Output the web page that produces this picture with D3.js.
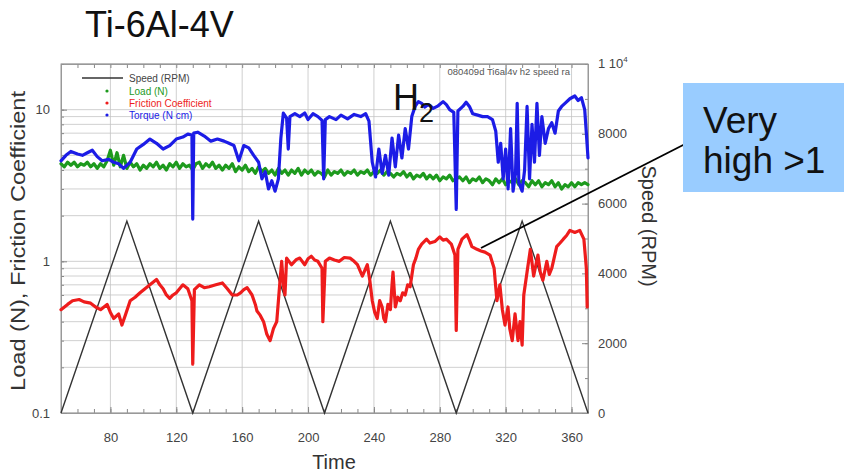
<!DOCTYPE html>
<html>
<head>
<meta charset="utf-8">
<script src="https://cdn.jsdelivr.net/npm/d3@7"></script>
<style>
  body { margin: 0; background: #fff; }
  svg text { font-family: "Liberation Sans", Arial, sans-serif; }
  .grid line { stroke: #c4c4c4; stroke-width: 0.8; }
  .axis path { stroke: #999; }
  .axis line { stroke: #888; }
  .axis text { fill: #444; font-size: 13px; }
  .series { fill: none; stroke-width: 3.2; stroke-linejoin: round; stroke-linecap: round; }
</style>
</head>
<body>
<script>
// ---- data ----
var timeTicks = [80, 120, 160, 200, 240, 280, 320, 360];
var leftTicks = [0.1, 1, 10];
var speedTicks = [0, 2000, 4000, 6000, 8000];

// speed ramps (RPM)
var speedData = [[50,0],[90,5500],[130,0],[170,5500],[210,0],[250,5500],[290,0],[330,5500],[370,0]];

// load (N)
var loadData = [[50,4.4],[52,4.2],[54,4.5],[56,4.3],[58,4.5],[60,4.2],[62,4.4],[64,4.3],[66,4.5],[68,4.2],
  [70,4.4],[72,4.1],[74,4.4],[76,4.2],[78,4.6],[80,5.4],[82,4.3],[84,5.2],[86,4.2],[88,5.0],
  [90,4.1],[92,4.5],[94,4.2],[96,4.4],[98,4.0],[100,4.3],[102,4.1],[104,4.4],[106,4.2],[108,4.5],
  [110,4.1],[112,4.3],[114,4.0],[116,4.4],[118,4.2],[120,4.5],[122,4.1],[124,4.4],[126,4.2],[128,4.3],
  [130,4.0],[132,4.4],[134,4.5],[136,4.1],[138,4.4],[140,4.2],[142,4.5],[144,4.1],[146,4.3],[148,4.0],
  [150,4.3],[152,4.1],[154,4.4],[156,3.9],[158,4.2],[160,4.0],[162,4.3],[164,3.9],[166,4.1],[168,3.8],
  [170,4.2],[172,3.9],[174,4.1],[176,3.8],[178,4.0],[180,3.7],[182,4.1],[184,3.8],[186,4.0],[188,3.7],
  [190,4.0],[192,3.8],[194,4.1],[196,3.7],[198,4.0],[200,3.8],[202,4.0],[204,3.7],[206,3.9],[208,3.8],
  [210,3.6],[212,4.0],[214,3.7],[216,3.9],[218,3.8],[220,4.0],[222,3.7],[224,3.9],[226,3.8],[228,4.0],
  [230,3.7],[232,3.9],[234,3.8],[236,4.0],[238,3.7],[240,3.9],[242,3.8],[244,4.0],[246,3.7],[248,3.9],
  [250,3.8],[252,3.6],[254,3.8],[256,3.7],[258,3.9],[260,3.6],[262,3.8],[264,3.5],[266,3.7],[268,3.6],
  [270,3.8],[272,3.5],[274,3.7],[276,3.5],[278,3.7],[280,3.4],[282,3.6],[284,3.5],[286,3.7],[288,3.4],
  [290,3.5],[292,3.6],[294,3.4],[296,3.6],[298,3.3],[300,3.5],[302,3.4],[304,3.6],[306,3.3],[308,3.5],
  [310,3.4],[312,3.2],[314,3.5],[316,3.3],[318,3.5],[320,3.2],[322,3.4],[324,3.3],[326,3.5],[328,3.2],
  [330,3.4],[332,3.3],[334,3.1],[336,3.4],[338,3.2],[340,3.4],[342,3.1],[344,3.3],[346,3.2],[348,3.4],
  [350,3.1],[352,3.3],[354,3.0],[356,3.2],[358,3.1],[360,3.3],[362,3.1],[364,3.3],[366,3.2],[368,3.3],[370,3.2]];

// friction coefficient
var frictionData = [[50,0.48],[54,0.52],[57,0.55],[61,0.56],[64,0.54],[68,0.53],[71,0.5],[74,0.48],[78,0.52],
  [80,0.46],[82,0.42],[85,0.45],[87,0.38],[89,0.44],[92,0.55],[95,0.58],[98,0.62],[101,0.66],[104,0.7],
  [108,0.76],[110,0.7],[112,0.66],[114,0.6],[116,0.57],[118,0.6],[120,0.62],[122,0.66],[124,0.7],[127,0.66],
  [129.5,0.55],[130,0.21],[131,0.65],[134,0.7],[137,0.67],[140,0.68],[144,0.7],[148,0.72],[151,0.66],[154,0.6],
  [157,0.6],[159,0.62],[161,0.65],[163,0.67],[166,0.6],[168,0.52],[169,0.47],[171,0.44],[173,0.4],[175,0.33],
  [177,0.3],[179,0.36],[181,0.4],[183,0.75],[184,1.0],[185,0.7],[186,0.6],[187,1.05],[189,0.98],[190,0.95],
  [193,1.03],[195,1.05],[198,0.95],[200,1.04],[202,1.08],[204,1.02],[206,1.0],[208.5,0.9],[209,0.4],[210.5,1.0],
  [213,1.05],[216,1.02],[219,1.0],[222,1.06],[225.5,1.05],[228,1.0],[230,0.95],[233,0.8],[236,0.95],[237.5,0.75],
  [239,0.55],[240.5,0.46],[242,0.42],[243.5,0.55],[245,0.5],[246,0.42],[247,0.4],[248.5,0.52],[250,0.48],[251,0.7],
  [251.6,0.85],[253,0.5],[254.5,0.58],[256,0.55],[257.5,0.62],[259,0.6],[260.5,0.7],[262,0.68],[264,0.95],[265.5,1.05],
  [267,1.2],[269,1.3],[272,1.4],[274,1.32],[277,1.35],[280,1.45],[282,1.38],[284,1.4],[287,1.3],[289.2,1.1],
  [290,0.35],[291,1.2],[293.5,1.4],[296.5,1.5],[298,1.38],[299.5,1.25],[302.6,1.2],[305,1.17],[307.4,1.15],[310.5,1.1],
  [313,0.9],[314.7,0.55],[316.5,0.7],[318,0.48],[319.6,0.38],[321.4,0.5],[322.5,0.36],[324,0.3],[325.7,0.45],[327.5,0.3],
  [328.7,0.4],[330,0.28],[331,0.6],[333,0.85],[335,1.2],[337,0.8],[339.6,1.1],[341,0.85],[342.6,0.75],[345,1.0],
  [346.5,0.82],[348,0.9],[351,1.25],[353,1.32],[355,1.4],[357,1.48],[359,1.6],[362,1.55],[365,1.6],[367.5,1.4],
  [369,0.9],[369.5,0.5]];

// torque (N cm)
var torqueData = [[50,4.6],[53,5.0],[56,5.3],[60,5.1],[63,5.0],[66,5.2],[69,5.4],[72,4.9],[75,4.6],[79,4.7],
  [82,4.5],[85,4.4],[88,4.1],[90,4.3],[92,4.5],[96,5.5],[100,5.9],[104,6.4],[108,6.0],[112,5.5],
  [116,5.8],[120,6.4],[124,6.6],[127,6.9],[129.5,6.8],[130,1.9],[130.6,7.0],[133,7.1],[137,6.7],[141,6.2],
  [145,6.4],[149,6.2],[152,6.0],[155,5.8],[158,4.6],[161,5.8],[164,5.6],[167,5.0],[170,4.5],[172,3.5],
  [174,3.9],[176,3.0],[178,3.4],[180,2.9],[182,3.5],[183.5,6.5],[185,9.5],[187,8.8],[188,5.5],[189,9.0],
  [192,9.4],[195,9.0],[198,9.5],[200,8.6],[203,9.4],[206,9.0],[208.5,8.5],[209.5,3.5],[210.5,8.6],[213,9.0],
  [217,8.6],[220,9.2],[224,8.7],[228,9.3],[232,9.0],[235,9.4],[237,8.4],[239,4.5],[241,3.6],[243,5.5],
  [245,3.8],[247,5.0],[249,3.7],[251,6.5],[253,4.2],[255,6.8],[257,4.8],[259,7.5],[261,5.5],[263,9.0],
  [265,10.5],[267,11.3],[269,11.0],[271,10.4],[273,10.8],[276,10.2],[279,10.6],[282,11.3],[284,10.8],[286,10.0],
  [288.5,9.6],[290,2.2],[291,9.8],[294,10.5],[296,11.2],[298,10.5],[300,9.4],[303,9.2],[306,9.0],[309,9.0],
  [312,8.6],[314,7.2],[315.5,4.5],[317,6.0],[318.5,3.5],[320,5.5],[321.5,3.0],[323,7.5],[324.5,2.9],[326,3.8],
  [327,11.0],[328,3.3],[330,2.9],[331.5,4.0],[333,10.5],[334.5,3.5],[336,8.0],[337.5,4.5],[339,11.0],[340.5,5.0],
  [342,9.0],[344,6.0],[346,7.5],[348,8.2],[350,7.0],[352,9.8],[354,10.5],[356,11.0],[359,11.8],[362,12.3],
  [364,11.5],[366,12.0],[368,10.0],[369,7.0],[370,4.8]];

// ---- layout ----
var W = 844, H = 474;
var plotL = 61, plotR = 588, plotT = 64, plotB = 413;

var svg = d3.select("body").append("svg")
  .attr("width", W).attr("height", H);

var x = d3.scaleLinear().domain([50, 370]).range([plotL, plotR]);
var yL = d3.scaleLog().domain([0.1, 20]).range([plotB, plotT]);
var yR = d3.scaleLinear().domain([0, 10000]).range([plotB, plotT]);

// log grid values (1..9 per decade)
var logGrid = [];
[0.1, 1, 10].forEach(function(d) {
  for (var k = 1; k <= 9; k++) {
    var v = +(d * k).toPrecision(3);
    if (v <= 20) logGrid.push(v);
  }
});
logGrid.push(20);

// grid
var grid = svg.append("g").attr("class", "grid");
grid.selectAll("line.h").data(logGrid).enter().append("line")
  .attr("x1", plotL).attr("x2", plotR)
  .attr("y1", function(d) { return yL(d); })
  .attr("y2", function(d) { return yL(d); });
grid.selectAll("line.v").data(timeTicks).enter().append("line")
  .attr("y1", plotT).attr("y2", plotB)
  .attr("x1", function(d) { return x(d); })
  .attr("x2", function(d) { return x(d); });

// axes, ticks pointing inward
var minorTime = d3.range(50, 371, 10);
svg.append("g").attr("class", "axis")
  .attr("transform", "translate(0," + plotB + ")")
  .call(d3.axisBottom(x).tickValues(minorTime).tickSize(-4).tickFormat(""));
svg.append("g").attr("class", "axis")
  .attr("transform", "translate(0," + plotB + ")")
  .call(d3.axisBottom(x).tickValues(timeTicks).tickSize(-6).tickPadding(20).tickFormat(d3.format("d")))
  .select(".domain").remove();
svg.append("g").attr("class", "axis")
  .attr("transform", "translate(0," + plotT + ")")
  .call(d3.axisTop(x).tickValues(minorTime).tickSize(-4).tickFormat(""));

svg.append("g").attr("class", "axis")
  .attr("transform", "translate(" + plotL + ",0)")
  .call(d3.axisLeft(yL).tickValues(logGrid).tickSize(-3).tickFormat(""));
svg.append("g").attr("class", "axis")
  .attr("transform", "translate(" + plotL + ",0)")
  .call(d3.axisLeft(yL).tickValues(leftTicks).tickSize(-6).tickPadding(11)
    .tickFormat(function(d) { return d === 0.1 ? "0.1" : d3.format("d")(d); }))
  .select(".domain").remove();

svg.append("g").attr("class", "axis")
  .attr("transform", "translate(" + plotR + ",0)")
  .call(d3.axisRight(yR).tickValues(d3.range(0, 10001, 1000)).tickSize(-3).tickFormat(""));
var rAxis = svg.append("g").attr("class", "axis")
  .attr("transform", "translate(" + plotR + ",0)")
  .call(d3.axisRight(yR).tickValues(speedTicks).tickSize(-6).tickPadding(10).tickFormat(d3.format("d")));
rAxis.select(".domain").remove();

// "1 10^4" label at top of the speed axis
var topLbl = svg.append("text")
  .attr("x", plotR + 10).attr("y", yR(10000) + 4)
  .attr("fill", "#444").attr("font-size", 13)
  .text("1 10");
topLbl.append("tspan").attr("dy", -6).attr("font-size", 8).text("4");

// frame
svg.append("rect")
  .attr("x", plotL).attr("y", plotT)
  .attr("width", plotR - plotL).attr("height", plotB - plotT)
  .attr("fill", "none").attr("stroke", "#999").attr("stroke-width", 1);

// series
var lineL = d3.line()
  .x(function(d) { return x(d[0]); })
  .y(function(d) { return yL(d[1]); });
var lineR = d3.line()
  .x(function(d) { return x(d[0]); })
  .y(function(d) { return yR(d[1]); });

svg.append("path").datum(speedData)
  .attr("fill", "none").attr("stroke", "#333").attr("stroke-width", 1.4)
  .attr("d", lineR);
svg.append("path").datum(loadData).attr("class", "series")
  .attr("stroke", "#1d9a1d").attr("stroke-width", 4).attr("d", lineL);
svg.append("path").datum(frictionData).attr("class", "series")
  .attr("stroke", "#ee1c1c").attr("d", lineL);
svg.append("path").datum(torqueData).attr("class", "series")
  .attr("stroke", "#1c1ce6").attr("d", lineL);

// legend
var legend = svg.append("g").attr("font-size", 10);
legend.append("line")
  .attr("x1", 82).attr("x2", 123).attr("y1", 78).attr("y2", 78)
  .attr("stroke", "#333").attr("stroke-width", 1.4);
legend.append("text").attr("x", 129).attr("y", 81.5).attr("fill", "#444").text("Speed (RPM)");
var legendItems = [
  {name: "Load (N)", color: "#1d9a1d"},
  {name: "Friction Coefficient", color: "#ee1c1c"},
  {name: "Torque (N cm)", color: "#1c1ce6"}
];
legendItems.forEach(function(d, i) {
  var yy = 91 + 12 * i;
  legend.append("circle").attr("cx", 107).attr("cy", yy).attr("r", 1.6).attr("fill", d.color);
  legend.append("text").attr("x", 129).attr("y", yy + 3.5).attr("fill", d.color).text(d.name);
});

// file tag, top right of plot
svg.append("text")
  .attr("x", 570).attr("y", 75).attr("text-anchor", "end")
  .attr("font-size", 9.5).attr("fill", "#555")
  .text("080409d Ti6al4v h2 speed ra");

// axis titles
svg.append("text")
  .attr("transform", "translate(25,241) rotate(-90)")
  .attr("text-anchor", "middle").attr("font-size", 20).attr("fill", "#333")
  .attr("textLength", 300).attr("lengthAdjust", "spacingAndGlyphs")
  .text("Load (N), Friction Coefficient");
svg.append("text")
  .attr("transform", "translate(642,226) rotate(90)")
  .attr("text-anchor", "middle").attr("font-size", 20).attr("fill", "#333")
  .text("Speed (RPM)");
svg.append("text")
  .attr("x", 334).attr("y", 469).attr("text-anchor", "middle")
  .attr("font-size", 20).attr("fill", "#333")
  .text("Time");

// slide annotations
svg.append("text")
  .attr("x", 85).attr("y", 37).attr("font-size", 36).attr("fill", "#111")
  .text("Ti-6Al-4V");

var h2 = svg.append("text").attr("x", 393).attr("y", 110).attr("fill", "#111");
h2.append("tspan").attr("font-size", 36).text("H");
h2.append("tspan").attr("font-size", 27).attr("dy", 12).text("2");

svg.append("line")
  .attr("x1", 481).attr("y1", 248).attr("x2", 691).attr("y2", 141)
  .attr("stroke", "#000").attr("stroke-width", 1.8);
svg.append("rect")
  .attr("x", 683).attr("y", 83).attr("width", 161).attr("height", 109)
  .attr("fill", "#99ccff");
svg.append("text").attr("x", 703).attr("y", 133)
  .attr("font-size", 37).attr("fill", "#111").text("Very");
svg.append("text").attr("x", 703).attr("y", 173)
  .attr("font-size", 37).attr("fill", "#111").text("high >1");
</script>
</body>
</html>
